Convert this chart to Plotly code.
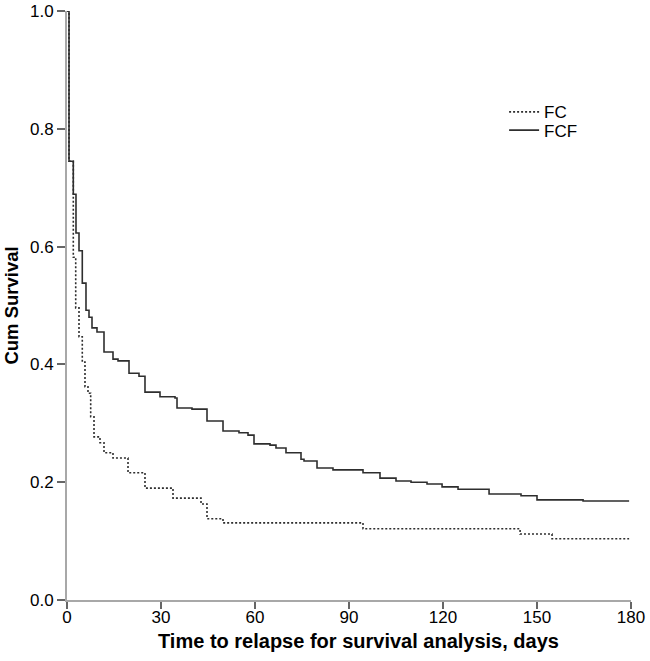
import plotly.graph_objects as go

# Kaplan-Meier step points (day of drop, survival after drop)
fcf_days = [0, 0.64, 2.01, 2.87, 3.83, 4.88, 6.06, 7.02, 7.98, 9.57, 11.81, 14.68, 16.28,
            19.79, 22.98, 24.89, 29.68, 34.47, 35.11, 39.89, 44.68, 49.79, 54.89, 57.77,
            59.68, 64.79, 66.70, 69.89, 74.68, 75.64, 79.79, 84.89, 94.47, 99.89, 105.0,
            109.8, 114.9, 119.7, 124.8, 134.7, 144.9, 150.0, 164.7, 179.4]
fcf_surv = [1.0, 0.745, 0.689, 0.623, 0.593, 0.538, 0.492, 0.480, 0.462, 0.455, 0.421, 0.409,
            0.406, 0.385, 0.380, 0.353, 0.345, 0.343, 0.326, 0.324, 0.304, 0.287, 0.284,
            0.280, 0.265, 0.263, 0.258, 0.250, 0.239, 0.236, 0.224, 0.221, 0.216, 0.207,
            0.202, 0.200, 0.197, 0.192, 0.188, 0.180, 0.177, 0.170, 0.168, 0.168]

fc_days = [0, 0.64, 2.01, 2.78, 3.83, 4.88, 5.74, 6.70, 7.56, 8.62, 10.53, 11.81, 14.68,
           19.47, 24.89, 33.83, 42.77, 44.68, 49.79, 94.47, 144.6, 154.8, 179.4]
fc_surv = [1.0, 0.745, 0.582, 0.496, 0.447, 0.404, 0.362, 0.351, 0.311, 0.277, 0.267, 0.250,
           0.241, 0.216, 0.190, 0.173, 0.163, 0.138, 0.131, 0.121, 0.112, 0.104, 0.104]

x_ticks = [0, 30, 60, 90, 120, 150, 180]
y_ticks = [0.0, 0.2, 0.4, 0.6, 0.8, 1.0]

FONT = "Liberation Sans, Arial, Helvetica, sans-serif"

fig = go.Figure()
fig.add_trace(go.Scatter(x=fc_days, y=fc_surv, mode="lines", name="FC", legend="legend",
                         line=dict(shape="hv", color="#2e2e2e", width=1.6, dash="2px,2px")))
fig.add_trace(go.Scatter(x=fcf_days, y=fcf_surv, mode="lines", name="FCF", legend="legend2",
                         line=dict(shape="hv", color="#2e2e2e", width=1.6)))

legend_style = dict(xanchor="left", yanchor="middle", font=dict(size=17, family=FONT),
                    bgcolor="rgba(0,0,0,0)", itemwidth=30)

fig.update_layout(
    width=650, height=661,
    margin=dict(l=67, r=19, t=11, b=61, autoexpand=False),
    plot_bgcolor="white", paper_bgcolor="white",
    font=dict(family=FONT, color="black", size=17),
    showlegend=True,
    legend=dict(x=0.775, y=0.828, **legend_style),
    legend2=dict(x=0.775, y=0.797, **legend_style),
    xaxis=dict(range=[0, 180], tickvals=x_ticks, ticktext=[str(v) for v in x_ticks],
               showgrid=False, zeroline=False, showline=True, linecolor="#a8a8a8",
               linewidth=2, ticks="outside", ticklen=7, tickcolor="#666666", tickwidth=1.5,
               tickfont=dict(size=17), automargin=False, ticklabelstandoff=-6,
               ticklabeloverflow="allow"),
    yaxis=dict(range=[0, 1], tickvals=y_ticks, ticktext=[f"{v:.1f}" for v in y_ticks],
               showgrid=False, zeroline=False, showline=True, linecolor="#a8a8a8",
               linewidth=2, ticks="outside", ticklen=8, tickcolor="#666666", tickwidth=1.5,
               tickfont=dict(size=17), automargin=False, ticklabeloverflow="allow",
               title=dict(text="<b>Cum Survival</b>", font=dict(size=18.5), standoff=6)),
    annotations=[dict(text="<b>Time to relapse for survival analysis, days</b>",
                      xref="paper", yref="paper", x=0.516, y=-0.0696,
                      xanchor="center", yanchor="middle", showarrow=False,
                      font=dict(size=20, family=FONT, color="black"))],
)

fig.write_html(
    "out.html",
    config={"displayModeBar": False},
    post_script="document.body.style.margin='0';document.body.style.overflow='hidden';",
)
